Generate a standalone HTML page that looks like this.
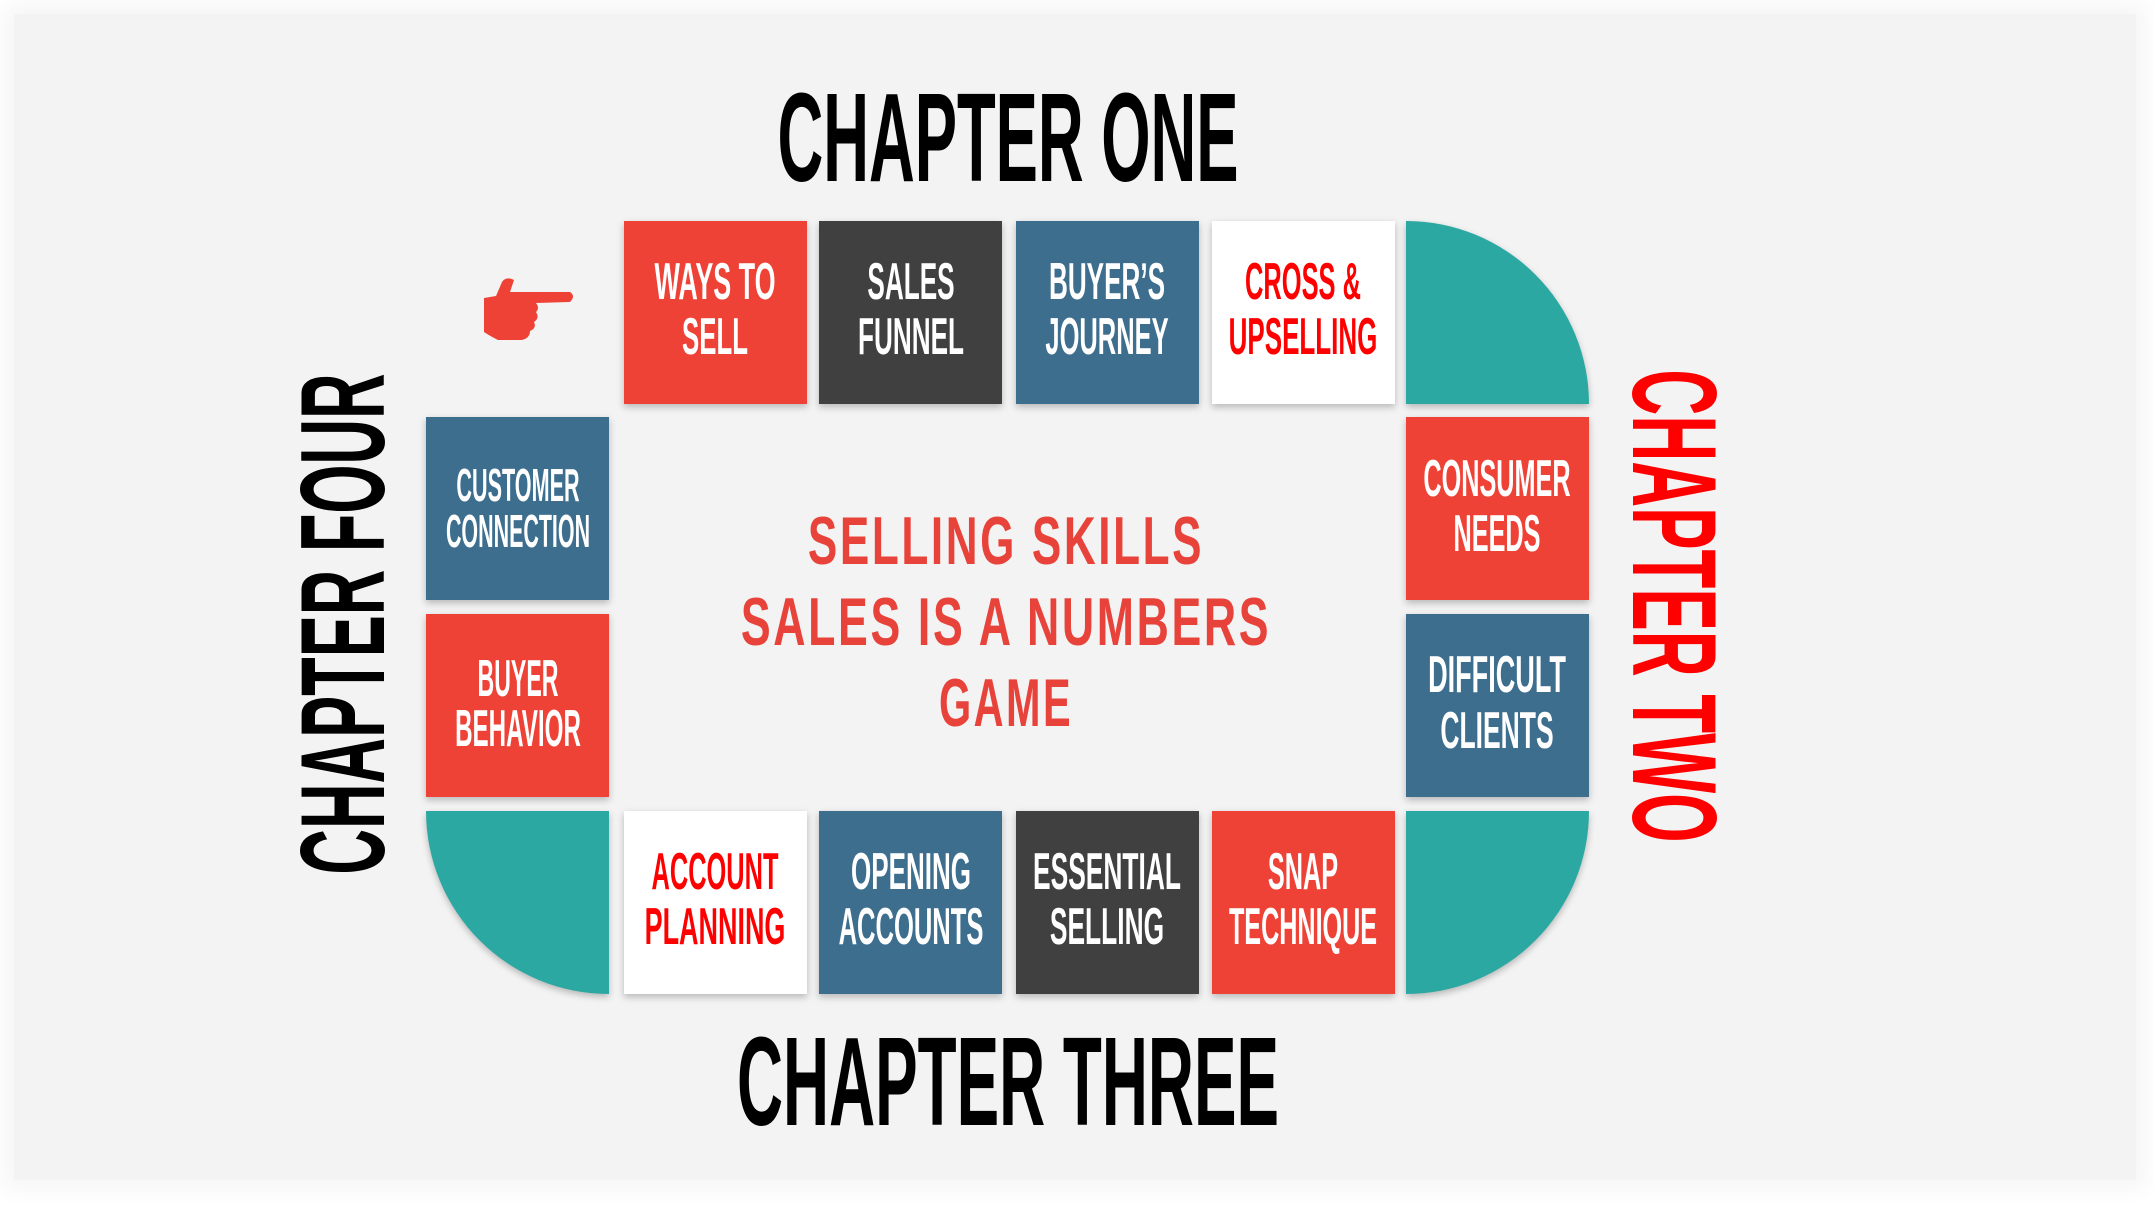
<!DOCTYPE html>
<html><head><meta charset="utf-8"><style>
html,body{margin:0;padding:0;background:#fff;}
#c{position:relative;width:2154px;height:1212px;overflow:hidden;background:#fff;}
#bg{position:absolute;left:14px;top:14px;width:2122px;height:1166px;background:#f3f3f3;box-shadow:0 0 20px 10px #f6f6f6;}
.tile{position:absolute;width:183px;height:183px;box-shadow:0 3px 7px rgba(0,0,0,0.25);}
.r{background:#ef4237}.d{background:#404040}.b{background:#3d6e8e}.w{background:#fff}.g{background:#2ca8a3}
.t{position:absolute;white-space:nowrap;font-family:"Liberation Sans",sans-serif;font-weight:bold;line-height:1;display:inline-block;}
.tt{font-size:52px;color:#fff;}
.rt{color:#ff0000;}
.h{font-size:126px;color:#000;}
.side{font-size:120px;}
.ctr{font-size:68px;color:#e8433a;}
</style></head><body><div id="c">
<div id="bg"></div>

<div class="tile r" style="left:624px;top:221px"></div>
<div class="tile d" style="left:819px;top:221px"></div>
<div class="tile b" style="left:1016px;top:221px"></div>
<div class="tile w" style="left:1212px;top:221px"></div>
<div class="tile g" style="left:1406px;top:221px;border-top-right-radius:100% 100%"></div>

<div class="tile b" style="left:426px;top:417px"></div>
<div class="tile r" style="left:426px;top:614px"></div>
<div class="tile r" style="left:1406px;top:417px"></div>
<div class="tile b" style="left:1406px;top:614px"></div>

<div class="tile g" style="left:426px;top:811px;border-bottom-left-radius:100% 100%"></div>
<div class="tile w" style="left:624px;top:811px"></div>
<div class="tile b" style="left:819px;top:811px"></div>
<div class="tile d" style="left:1016px;top:811px"></div>
<div class="tile r" style="left:1212px;top:811px"></div>
<div class="tile g" style="left:1406px;top:811px;border-bottom-right-radius:100% 100%"></div>

<svg style="position:absolute;left:480px;top:276px" width="100" height="70" viewBox="0 0 100 70">
<path d="M4 22 L16 20 L22 6 Q26 0 34 4 L30 16 L90 16 Q96 20 90 26 L56 27 Q60 32 56 36 Q60 42 54 46 Q57 52 50 55 Q50 62 42 64 L18 64 Q10 60 4 56 Z" fill="#ef4237"/>
</svg>

<span class="t tt" w="121" style="left:715px;top:282px">WAYS TO</span>
<span class="t tt" w="66" style="left:715px;top:337px">SELL</span>
<span class="t tt" w="87" style="left:911px;top:282px">SALES</span>
<span class="t tt" w="106" style="left:911px;top:337px">FUNNEL</span>
<span class="t tt" w="116" style="left:1107px;top:282px">BUYER’S</span>
<span class="t tt" w="123" style="left:1107px;top:337px">JOURNEY</span>
<span class="t tt rt" w="116" style="left:1303px;top:282px">CROSS &amp;</span>
<span class="t tt rt" w="149" style="left:1303px;top:337px">UPSELLING</span>

<span class="t tt" w="123" style="font-size:46px;left:518px;top:485px">CUSTOMER</span>
<span class="t tt" w="144" style="font-size:46px;left:518px;top:531px">CONNECTION</span>
<span class="t tt" w="81" style="left:518px;top:679px">BUYER</span>
<span class="t tt" w="126" style="left:518px;top:729px">BEHAVIOR</span>

<span class="t tt" w="147" style="left:1497px;top:479px">CONSUMER</span>
<span class="t tt" w="87" style="left:1497px;top:534px">NEEDS</span>
<span class="t tt" w="138" style="left:1497px;top:675px">DIFFICULT</span>
<span class="t tt" w="113" style="left:1497px;top:731px">CLIENTS</span>

<span class="t tt rt" w="127" style="left:715px;top:872px">ACCOUNT</span>
<span class="t tt rt" w="141" style="left:715px;top:927px">PLANNING</span>
<span class="t tt" w="120" style="left:911px;top:872px">OPENING</span>
<span class="t tt" w="145" style="left:911px;top:927px">ACCOUNTS</span>
<span class="t tt" w="148" style="left:1107px;top:872px">ESSENTIAL</span>
<span class="t tt" w="114" style="left:1107px;top:927px">SELLING</span>
<span class="t tt" w="70" style="left:1303px;top:872px">SNAP</span>
<span class="t tt" w="148" style="left:1303px;top:927px">TECHNIQUE</span>

<span class="t h" w="461" style="left:1008px;top:138px">CHAPTER ONE</span>
<span class="t h" w="542" style="left:1008px;top:1082px">CHAPTER THREE</span>
<span class="t side" w="501" rot="-90" style="left:343px;top:624px;color:#000">CHAPTER FOUR</span>
<span class="t side" w="473" rot="90" style="left:1674px;top:606px;color:#ff0000">CHAPTER TWO</span>

<span class="t ctr" w="396" style="left:1006px;top:541px;letter-spacing:4px">SELLING SKILLS</span>
<span class="t ctr" w="530" style="left:1006px;top:622px;letter-spacing:4px">SALES IS A NUMBERS</span>
<span class="t ctr" w="134" style="left:1006px;top:703px;letter-spacing:4px">GAME</span>
</div>
<script>
document.querySelectorAll('.t').forEach(function(e){
 var w=parseFloat(e.getAttribute('w'));var s=w/e.offsetWidth;
 var r=e.getAttribute('rot');
 e.style.transform='translate(-50%,-50%)'+(r?' rotate('+r+'deg)':'')+' scale('+s+',1)';
});
</script>
</body></html>
